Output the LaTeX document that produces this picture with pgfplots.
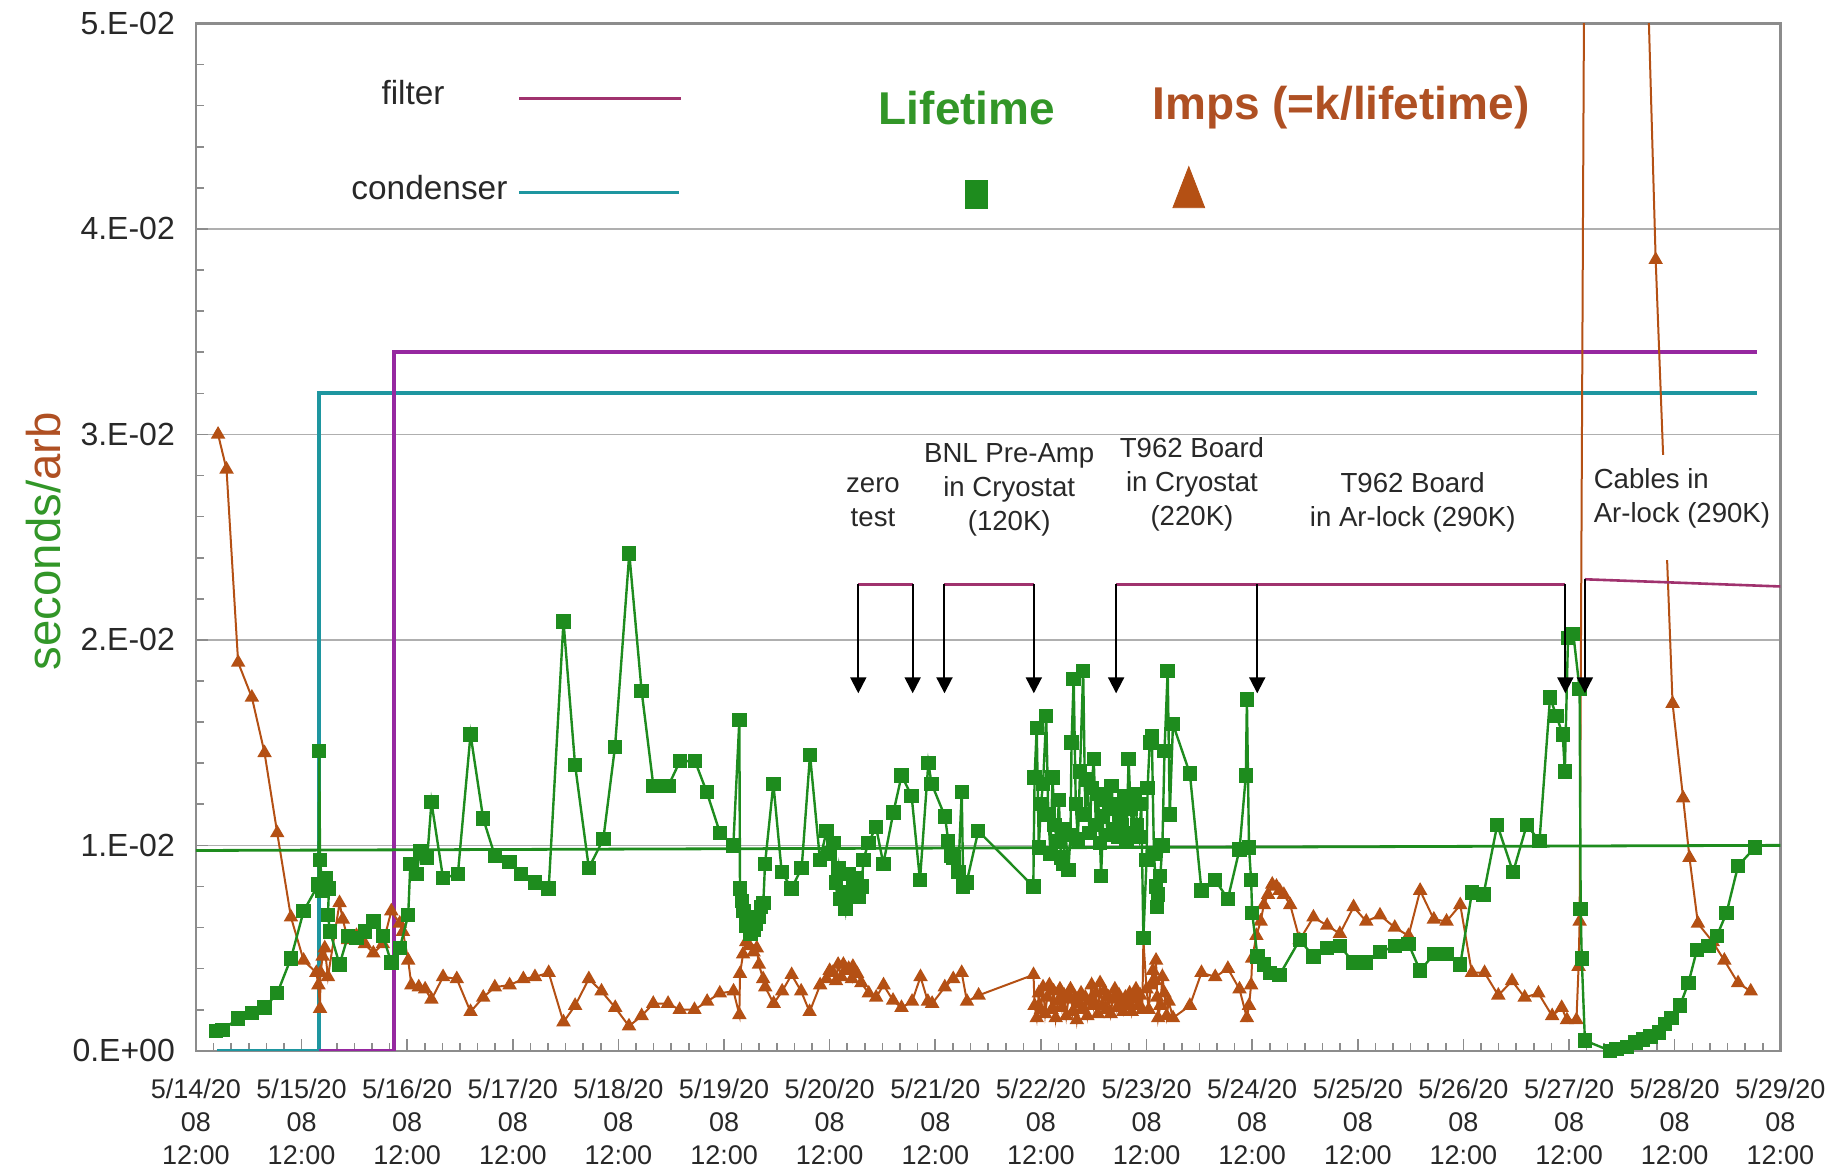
\documentclass[border=0pt]{standalone}
\usepackage{fontspec}
\setmainfont{Liberation Sans}
\usepackage{pgfplots}
\pgfplotsset{compat=1.18}
\usetikzlibrary{arrows.meta}
\definecolor{lgreen}{RGB}{30,140,30}
\definecolor{tgreen}{RGB}{50,150,40}
\definecolor{lbrown}{RGB}{180,80,20}
\definecolor{tbrown}{RGB}{175,80,35}
\definecolor{cteal}{RGB}{30,150,160}
\definecolor{fpurple}{RGB}{150,40,160}
\definecolor{maroon}{RGB}{160,50,110}
\definecolor{gridgray}{RGB}{175,175,175}
\definecolor{axisgray}{RGB}{140,140,140}
\definecolor{labelgray}{RGB}{40,40,40}
\begin{document}
\begin{tikzpicture}
\begin{axis}[
  name=ax, at={(0,0)}, anchor=south west,
  scale only axis, width=792.2pt, height=513.65pt,
  xmin=0, xmax=15, ymin=0, ymax=50,
  clip mode=individual,
  axis line style={draw=axisgray, line width=1.2pt},
  tick pos=left, tick align=inside,
  xtick={0,1,...,15},
  xticklabels={{5/14/20\\08\\12:00},{5/15/20\\08\\12:00},{5/16/20\\08\\12:00},{5/17/20\\08\\12:00},{5/18/20\\08\\12:00},{5/19/20\\08\\12:00},{5/20/20\\08\\12:00},{5/21/20\\08\\12:00},{5/22/20\\08\\12:00},{5/23/20\\08\\12:00},{5/24/20\\08\\12:00},{5/25/20\\08\\12:00},{5/26/20\\08\\12:00},{5/27/20\\08\\12:00},{5/28/20\\08\\12:00},{5/29/20\\08\\12:00}},
  ytick={0,10,20,30,40,50},
  yticklabels={0.E+00,1.E-02,2.E-02,3.E-02,4.E-02,5.E-02},
  minor x tick num=5, minor y tick num=4,
  ymajorgrids, major grid style={draw=gridgray, line width=0.8pt},
  tick style={draw=axisgray, line width=0.8pt},
  major tick length=6pt, minor tick length=4pt,
  xticklabel style={font=\fontsize{13.5}{16.4}\selectfont, align=center, text=labelgray, yshift=-10.5pt},
  yticklabel style={font=\fontsize{16}{19}\selectfont, text=labelgray, xshift=-7pt},
  /pgf/number format/assume math mode=true,
]
% condenser and filter
\addplot[cteal, line width=2pt] coordinates {(0.2,0) (1.167,0) (1.167,32.0) (14.78,32.0)};
\addplot[fpurple, line width=2pt] coordinates {(1.167,0) (1.875,0) (1.875,34.0) (14.78,34.0)};
% legend samples
\addplot[maroon, line width=1.8pt] coordinates {(3.06,46.35) (4.59,46.35)};
\addplot[cteal, line width=1.8pt] coordinates {(3.06,41.78) (4.57,41.78)};
\addplot[only marks, mark=square*, mark size=7pt, lgreen, mark options={xscale=0.79}] coordinates {(7.39,41.7)};
\addplot[only marks, mark=triangle*, mark size=13.7pt, lbrown, mark options={xscale=0.67}] coordinates {(9.40,41.7)};
% Imps
\addplot[lbrown, line width=1pt, mark=triangle*, mark size=3.2pt] coordinates {
(0.21,30.0) (0.29,28.3) (0.40,18.9) (0.53,17.2) (0.65,14.5) (0.77,10.6) (0.90,6.5) (1.02,4.4)
(1.14,3.8) (1.16,3.2) (1.175,2.05) (1.18,3.8) (1.20,4.6) (1.22,5.0) (1.25,3.6) (1.36,7.2) (1.39,6.4)
(1.44,5.4) (1.52,5.6) (1.60,5.2) (1.68,4.75) (1.77,5.2) (1.85,6.8) (1.93,6.2) (1.96,5.8) (2.01,4.4)
(2.04,3.2) (2.11,3.1) (2.17,3.0) (2.23,2.5) (2.34,3.6) (2.47,3.5) (2.60,1.9) (2.72,2.6) (2.83,3.1)
(2.97,3.2) (3.10,3.5) (3.21,3.6) (3.34,3.8) (3.48,1.4) (3.59,2.2) (3.72,3.5) (3.84,2.9) (3.97,2.1)
(4.10,1.2) (4.22,1.7) (4.33,2.3) (4.47,2.3) (4.58,2.0) (4.72,2.0) (4.84,2.4) (4.96,2.8) (5.09,2.9)
(5.145,1.75) (5.151,3.75) (5.18,4.7) (5.21,5.3) (5.24,5.1) (5.28,4.8) (5.31,5.0) (5.33,4.2) (5.37,3.5)
(5.39,3.1) (5.47,2.3) (5.55,2.9) (5.64,3.7) (5.73,2.9) (5.81,1.9) (5.91,3.2) (5.97,3.5) (6.00,3.9)
(6.03,3.8) (6.06,3.4) (6.08,4.2) (6.11,3.6) (6.13,4.2) (6.16,3.9) (6.18,4.0) (6.21,3.5) (6.22,4.1)
(6.26,3.75) (6.30,3.3) (6.37,2.8) (6.44,2.6) (6.51,3.2) (6.60,2.45) (6.68,2.1) (6.78,2.4) (6.86,3.6)
(6.93,2.4) (6.97,2.3) (7.09,3.1) (7.17,3.5) (7.25,3.8) (7.30,2.4) (7.41,2.7) (7.93,3.7)
(7.94,2.2) (7.96,1.6) (7.98,2.8) (8.00,2.0) (8.02,3.1) (8.04,1.8) (8.06,2.6) (8.08,3.2) (8.10,2.0)
(8.12,2.9) (8.14,1.6) (8.16,2.4) (8.18,3.0) (8.20,2.1) (8.22,2.7) (8.24,1.7) (8.26,2.5) (8.28,3.0)
(8.30,1.9) (8.32,2.6) (8.34,1.5) (8.36,2.3) (8.38,2.8) (8.40,2.0) (8.42,2.6) (8.44,1.7) (8.46,2.4)
(8.48,3.2) (8.50,2.2) (8.52,2.8) (8.54,1.8) (8.56,3.3) (8.58,2.2) (8.60,2.9) (8.62,2.0) (8.64,2.6)
(8.66,1.8) (8.68,2.5) (8.70,3.0) (8.72,2.1) (8.74,2.7) (8.76,2.3) (8.78,1.9) (8.80,2.6) (8.82,2.2)
(8.84,2.8) (8.86,1.9) (8.88,2.5) (8.90,3.0) (8.92,2.2) (8.94,2.7) (8.96,2.0) (8.97,5.4) (9.00,3.0)
(9.02,2.0) (9.04,3.2) (9.06,3.9) (9.08,3.4) (9.09,4.4) (9.10,2.6) (9.11,1.6) (9.13,2.2) (9.15,3.6)
(9.17,2.8) (9.19,1.7) (9.21,2.4) (9.25,1.6) (9.41,2.2) (9.52,3.8) (9.65,3.6) (9.77,4.0) (9.88,3.0)
(9.95,1.6) (9.97,2.2) (9.99,3.2) (10.00,4.5) (10.04,5.6) (10.08,6.3) (10.11,7.1) (10.15,7.6)
(10.19,8.1) (10.23,8.0) (10.26,7.8) (10.30,7.6) (10.36,7.1) (10.45,5.4) (10.58,6.5) (10.71,6.1)
(10.83,5.7) (10.96,7.0) (11.08,6.3) (11.21,6.6) (11.35,6.0) (11.48,5.6) (11.59,7.8) (11.72,6.4)
(11.84,6.3) (11.97,7.1) (12.08,3.8) (12.20,3.8) (12.33,2.7) (12.46,3.4) (12.58,2.6) (12.71,2.8)
(12.84,1.7) (12.93,2.1) (12.98,1.5) (13.07,1.5) (13.09,4.1) (13.10,6.3) (13.15,60) (13.40,400)
(13.60,150) (13.70,62) (13.745,52) (13.82,38.5) (13.98,16.9) (14.08,12.3) (14.14,9.4) (14.22,6.2)
(14.36,5.3) (14.47,4.4) (14.60,3.3) (14.72,2.9)
};
% Lifetime
\addplot[lgreen, line width=1.2pt, mark=square*, mark size=3pt] coordinates {
(0.19,0.97) (0.25,1.0) (0.40,1.58) (0.53,1.84) (0.65,2.1) (0.77,2.8) (0.90,4.5) (1.02,6.8)
(1.16,8.1) (1.168,14.6) (1.175,9.3) (1.20,7.8) (1.23,8.4) (1.26,7.9) (1.25,6.6) (1.27,5.8) (1.36,4.2)
(1.44,5.6) (1.52,5.5) (1.60,5.8) (1.68,6.3) (1.77,5.6) (1.85,4.3) (1.93,5.0) (2.01,6.6) (2.03,9.1)
(2.09,8.6) (2.12,9.7) (2.19,9.4) (2.23,12.1) (2.34,8.4) (2.48,8.6) (2.60,15.4) (2.72,11.3) (2.83,9.5)
(2.97,9.2) (3.08,8.6) (3.21,8.2) (3.34,7.9) (3.48,20.9) (3.59,13.9) (3.72,8.9) (3.857,10.3)
(3.968,14.8) (4.103,24.2) (4.220,17.5) (4.331,12.9) (4.473,12.9) (4.583,14.1) (4.725,14.1)
(4.836,12.6) (4.962,10.6) (5.088,10.0) (5.145,16.1) (5.151,7.9) (5.17,7.3) (5.183,6.8) (5.214,6.1)
(5.25,5.7) (5.277,5.9) (5.30,6.2) (5.325,6.5) (5.35,7.0) (5.372,7.2) (5.388,9.1) (5.467,13.0)
(5.546,8.7) (5.640,7.9) (5.735,8.9) (5.814,14.4) (5.908,9.3) (5.971,10.7) (6.00,9.6) (6.035,10.1)
(6.06,8.2) (6.082,8.9) (6.10,7.4) (6.129,7.7) (6.15,6.9) (6.177,8.6) (6.20,7.6) (6.224,8.2)
(6.256,8.4) (6.28,7.5) (6.303,8.0) (6.319,9.3) (6.366,10.1) (6.439,10.9) (6.508,9.1) (6.603,11.6)
(6.681,13.4) (6.776,12.4) (6.855,8.3) (6.934,14.0) (6.965,13.0) (7.092,11.4) (7.123,10.2) (7.15,9.5)
(7.171,9.4) (7.218,8.7) (7.250,12.6) (7.265,8.0) (7.297,8.2) (7.407,10.7) (7.928,8.0)
(7.94,13.3) (7.96,15.7) (7.98,9.9) (8.00,12.0) (8.02,13.0) (8.05,16.3) (8.07,11.5) (8.09,9.6)
(8.11,13.3) (8.13,11.0) (8.15,10.2) (8.17,12.2) (8.19,9.4) (8.21,9.1) (8.23,10.8) (8.26,8.8)
(8.28,10.5) (8.29,15.0) (8.31,18.1) (8.33,12.0) (8.35,10.3) (8.37,13.6) (8.40,18.5) (8.42,11.5)
(8.44,13.2) (8.46,10.6) (8.48,12.8) (8.50,14.2) (8.52,11.0) (8.54,12.5) (8.56,10.1) (8.57,8.5)
(8.59,11.4) (8.61,12.2) (8.63,10.5) (8.65,11.8) (8.67,12.9) (8.69,10.8) (8.71,12.0) (8.73,10.4)
(8.75,11.6) (8.77,11.0) (8.79,12.4) (8.81,10.3) (8.83,14.2) (8.85,11.8) (8.87,10.6) (8.89,12.5)
(8.91,11.0) (8.93,10.4) (8.95,12.0) (8.97,5.5) (9.00,9.3) (9.01,12.8) (9.03,15.0) (9.05,15.3)
(9.07,9.6) (9.09,8.0) (9.10,7.0) (9.11,7.6) (9.13,8.5) (9.15,10.0) (9.17,14.6) (9.20,18.5)
(9.22,11.5) (9.25,15.9) (9.41,13.5) (9.52,7.8) (9.65,8.3) (9.77,7.4) (9.88,9.8) (9.94,13.4)
(9.95,17.1) (9.97,9.9) (9.99,8.3) (10.00,6.7) (10.05,4.6) (10.11,4.2) (10.17,3.8) (10.26,3.7)
(10.45,5.4) (10.58,4.6) (10.71,5.0) (10.83,5.1) (10.96,4.3) (11.08,4.3) (11.21,4.8) (11.35,5.1)
(11.48,5.2) (11.59,3.9) (11.72,4.7) (11.84,4.7) (11.97,4.2) (12.08,7.7) (12.19,7.6) (12.32,11.0)
(12.47,8.7) (12.60,11.0) (12.72,10.2) (12.82,17.2) (12.88,16.3) (12.94,15.4) (12.96,13.6)
(12.99,20.1) (13.04,20.3) (13.10,17.6) (13.11,6.9) (13.12,4.5) (13.15,0.5) (13.39,0.0) (13.45,0.1)
(13.55,0.2) (13.63,0.4) (13.70,0.55) (13.77,0.7) (13.85,0.9) (13.91,1.3) (13.97,1.6) (14.05,2.2)
(14.13,3.3) (14.21,4.9) (14.32,5.1) (14.40,5.6) (14.49,6.7) (14.60,9.0) (14.76,9.9)
};
% trend line
\addplot[lgreen, line width=1.4pt] coordinates {(0,9.75) (15,10.0)};
% brackets and arrows
\draw[maroon, line width=1.3pt] (axis cs:6.271,22.7) -- (axis cs:6.786,22.7);
\draw[maroon, line width=1.3pt] (axis cs:7.087,22.7) -- (axis cs:7.933,22.7);
\draw[maroon, line width=1.3pt] (axis cs:8.712,22.7) -- (axis cs:12.965,22.7);
\draw[maroon, line width=1.3pt] (axis cs:13.15,22.95) -- (axis cs:15,22.6);
\foreach \xa in {6.271,6.786,7.087,7.933,8.712,10.048,12.965}{
  \edef\tmp{\noexpand\draw[black, line width=1pt, -{Triangle[width=8pt,length=8pt]}] (axis cs:\xa,22.7) -- (axis cs:\xa,17.4);}\tmp
}
\draw[black, line width=1pt, -{Triangle[width=8pt,length=8pt]}] (axis cs:13.15,22.95) -- (axis cs:13.15,17.4);
% white box under Cables text
\fill[white] (axis cs:13.19,23.9) rectangle (axis cs:14.98,29.0);
% annotations
\begin{scope}[every node/.style={font=\fontsize{13.8}{17}\selectfont, align=center, text=labelgray, inner sep=0pt}]
\node at (axis cs:6.41,26.7) {zero\\test};
\node at (axis cs:7.70,27.3) {BNL Pre-Amp\\in Cryostat\\(120K)};
\node at (axis cs:9.43,27.57) {T962 Board\\in Cryostat\\(220K)};
\node at (axis cs:11.52,26.71) {T962 Board\\in Ar-lock (290K)};
\node[anchor=west, align=left] at (axis cs:13.23,26.88) {Cables in\\Ar-lock (290K)};
\end{scope}
\node[font=\fontsize{16.7}{20}\selectfont, text=labelgray] at (axis cs:2.056,46.63) {filter};
\node[font=\fontsize{16.7}{20}\selectfont, text=labelgray] at (axis cs:2.211,42.0) {condenser};
\node[font=\fontsize{23}{27}\selectfont\bfseries, text=tgreen] at (axis cs:7.30,45.9) {Lifetime};
\node[font=\fontsize{23}{27}\selectfont\bfseries, text=tbrown] at (axis cs:10.84,45.9) {Imps (=k/lifetime)};
\node[rotate=90, font=\fontsize{23.7}{28}\selectfont] at (axis cs:-1.444,24.8) {\textcolor{tgreen}{seconds/}\textcolor{tbrown}{arb}};
\end{axis}
\pgfresetboundingbox
\path (-97.95pt,-59.1pt) rectangle (821.55pt,525.4pt);
\end{tikzpicture}
\end{document}
